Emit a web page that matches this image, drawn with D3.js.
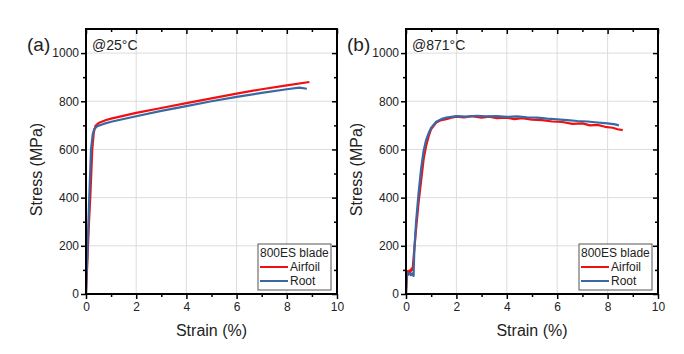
<!DOCTYPE html>
<html>
<head>
<meta charset="utf-8">
<script src="https://cdn.jsdelivr.net/npm/d3@7"></script>
<style>
  body { margin: 0; background: #fff; }
  svg text { font-family: "Liberation Sans", Arial, sans-serif; fill: #222; }
</style>
</head>
<body>
<svg id="chart" width="684" height="354"></svg>
<script>
// strain (%) / stress (MPa)
var roomAirfoil = [[0,0],[0.06,150],[0.12,300],[0.17,400],[0.25,600],[0.31,670],[0.38,698],[0.5,710],[0.8,722],[1,728],[2,752],[3,772],[4,792],[5,812],[6,832],[7,850],[8,866],[8.9,880]];
var roomRoot = [[0,0],[0.05,150],[0.13,400],[0.2,600],[0.27,665],[0.33,685],[0.45,697],[0.7,706],[1,715],[2,738],[3,760],[4,780],[5,800],[6,818],[7,835],[8,850],[8.5,857],[8.8,852]];

var hotAirfoil = [[0,0],[0.03,60],[0.06,95],[0.1,88],[0.14,98],[0.18,92],[0.22,105],[0.26,100],[0.3,150],[0.4,270],[0.5,380],[0.6,470],[0.7,560],[0.8,615],[0.9,655],[1.0,685],[1.2,712],[1.4,722],[1.6,726],[1.8,732],[2,736],[2.3,733],[2.6,738],[3,732],[3.3,736],[3.6,730],[4,732],[4.3,726],[4.6,730],[5,724],[5.4,722],[5.8,716],[6.2,714],[6.6,706],[7,708],[7.3,700],[7.6,702],[7.9,694],[8.2,690],[8.4,684],[8.6,680]];
var hotRoot = [[0,0],[0.02,50],[0.04,85],[0.1,80],[0.15,88],[0.2,78],[0.25,85],[0.3,75],[0.33,180],[0.4,300],[0.5,420],[0.6,520],[0.7,595],[0.8,640],[0.9,668],[1.0,690],[1.2,715],[1.4,726],[1.6,732],[2,738],[2.4,736],[2.8,740],[3.2,737],[3.6,738],[4,735],[4.4,737],[4.8,733],[5.2,732],[5.6,728],[6,725],[6.4,722],[6.8,718],[7.2,716],[7.6,712],[8,708],[8.3,704],[8.45,700]];

var panelLabels = ['(a)', '(b)'];
var tempLabels = ['@25\u00B0C', '@871\u00B0C'];
var seriesNames = ['Airfoil', 'Root'];
var legendTitle = '800ES blade';
var xTicks = [0, 2, 4, 6, 8, 10];
var yTicks = [0, 200, 400, 600, 800, 1000];

var colors = ['#f01010', '#3a68a4'];

var svg = d3.select('#chart');
var height = 265; // 29 -> 294

var panels = [
  { left: 86, width: 251, data: [roomAirfoil, roomRoot] },
  { left: 406, width: 252, data: [hotAirfoil, hotRoot] }
];

panels.forEach(function (p, i) {
  var g = svg.append('g').attr('transform', 'translate(' + p.left + ',29)');
  var width = p.width;

  var x = d3.scaleLinear().domain([0, 10]).range([0, width]);
  var y = d3.scaleLinear().domain([0, 1100]).range([height, 0]);

  // grid
  g.selectAll('.vgrid').data(xTicks.slice(1, -1)).enter().append('line')
    .attr('x1', d => x(d)).attr('x2', d => x(d))
    .attr('y1', 0).attr('y2', height)
    .attr('stroke', '#dcdcdc').attr('stroke-width', 1);
  g.selectAll('.hgrid').data(yTicks.slice(1)).enter().append('line')
    .attr('y1', d => y(d)).attr('y2', d => y(d))
    .attr('x1', 0).attr('x2', width)
    .attr('stroke', '#dcdcdc').attr('stroke-width', 1);

  // curves
  var line = d3.line().x(d => x(d[0])).y(d => y(d[1]));
  p.data.forEach(function (s, j) {
    g.append('path').datum(s)
      .attr('d', line)
      .attr('fill', 'none')
      .attr('stroke', colors[j])
      .attr('stroke-width', 2.2)
      .attr('stroke-linejoin', 'round');
  });

  // axes
  var minorX = d3.range(1, 10, 2);
  var minorY = d3.range(100, 1100, 200);

  g.append('g').attr('transform', 'translate(0,' + height + ')')
    .call(d3.axisBottom(x).tickValues(xTicks).tickSize(5).tickPadding(3).tickFormat(d3.format('d')));
  g.append('g')
    .call(d3.axisLeft(y).tickValues(yTicks).tickSize(5).tickPadding(2).tickFormat(d3.format('d')));
  g.append('g')
    .call(d3.axisBottom(x).tickValues(xTicks).tickSize(5).tickFormat(''));
  g.append('g').attr('transform', 'translate(' + width + ',0)')
    .call(d3.axisLeft(y).tickValues(yTicks).tickSize(5).tickFormat(''));

  g.append('g').attr('transform', 'translate(0,' + height + ')')
    .call(d3.axisBottom(x).tickValues(minorX).tickSize(3).tickFormat(''));
  g.append('g')
    .call(d3.axisLeft(y).tickValues(minorY).tickSize(3).tickFormat(''));
  g.append('g')
    .call(d3.axisBottom(x).tickValues(minorX).tickSize(3).tickFormat(''));
  g.append('g').attr('transform', 'translate(' + width + ',0)')
    .call(d3.axisLeft(y).tickValues(minorY).tickSize(3).tickFormat(''));

  g.selectAll('.domain').remove();
  g.selectAll('.tick line').attr('stroke', '#000').attr('stroke-width', 1.5);
  g.selectAll('.tick text').attr('font-size', '12px').attr('fill', '#222');

  g.append('rect')
    .attr('width', width).attr('height', height)
    .attr('fill', 'none').attr('stroke', '#000').attr('stroke-width', 2);

  // titles
  g.append('text')
    .attr('x', width / 2).attr('y', height + 42)
    .attr('text-anchor', 'middle')
    .attr('font-size', '16px')
    .text('Strain (%)');
  g.append('text')
    .attr('transform', 'rotate(-90)')
    .attr('x', -height / 2 - 8).attr('y', -44)
    .attr('text-anchor', 'middle')
    .attr('font-size', '16px')
    .text('Stress (MPa)');

  g.append('text')
    .attr('x', -59).attr('y', 22)
    .attr('font-size', '19px')
    .text(panelLabels[i]);
  g.append('text')
    .attr('x', 6).attr('y', 21)
    .attr('font-size', '14px')
    .text(tempLabels[i]);

  // legend
  var lg = g.append('g').attr('transform', 'translate(' + (width - 79) + ',' + (height - 50) + ')');
  lg.append('rect')
    .attr('width', 73).attr('height', 46)
    .attr('fill', '#fff').attr('stroke', '#555').attr('stroke-width', 1);
  lg.append('text')
    .attr('x', 2).attr('y', 13)
    .attr('font-size', '12px')
    .text(legendTitle);
  seriesNames.forEach(function (n, j) {
    var yy = 27 + j * 14;
    lg.append('line')
      .attr('x1', 2).attr('x2', 30)
      .attr('y1', yy - 4).attr('y2', yy - 4)
      .attr('stroke', colors[j]).attr('stroke-width', 2);
    lg.append('text')
      .attr('x', 32).attr('y', yy)
      .attr('font-size', '12px')
      .text(n);
  });
});
</script>
</body>
</html>
